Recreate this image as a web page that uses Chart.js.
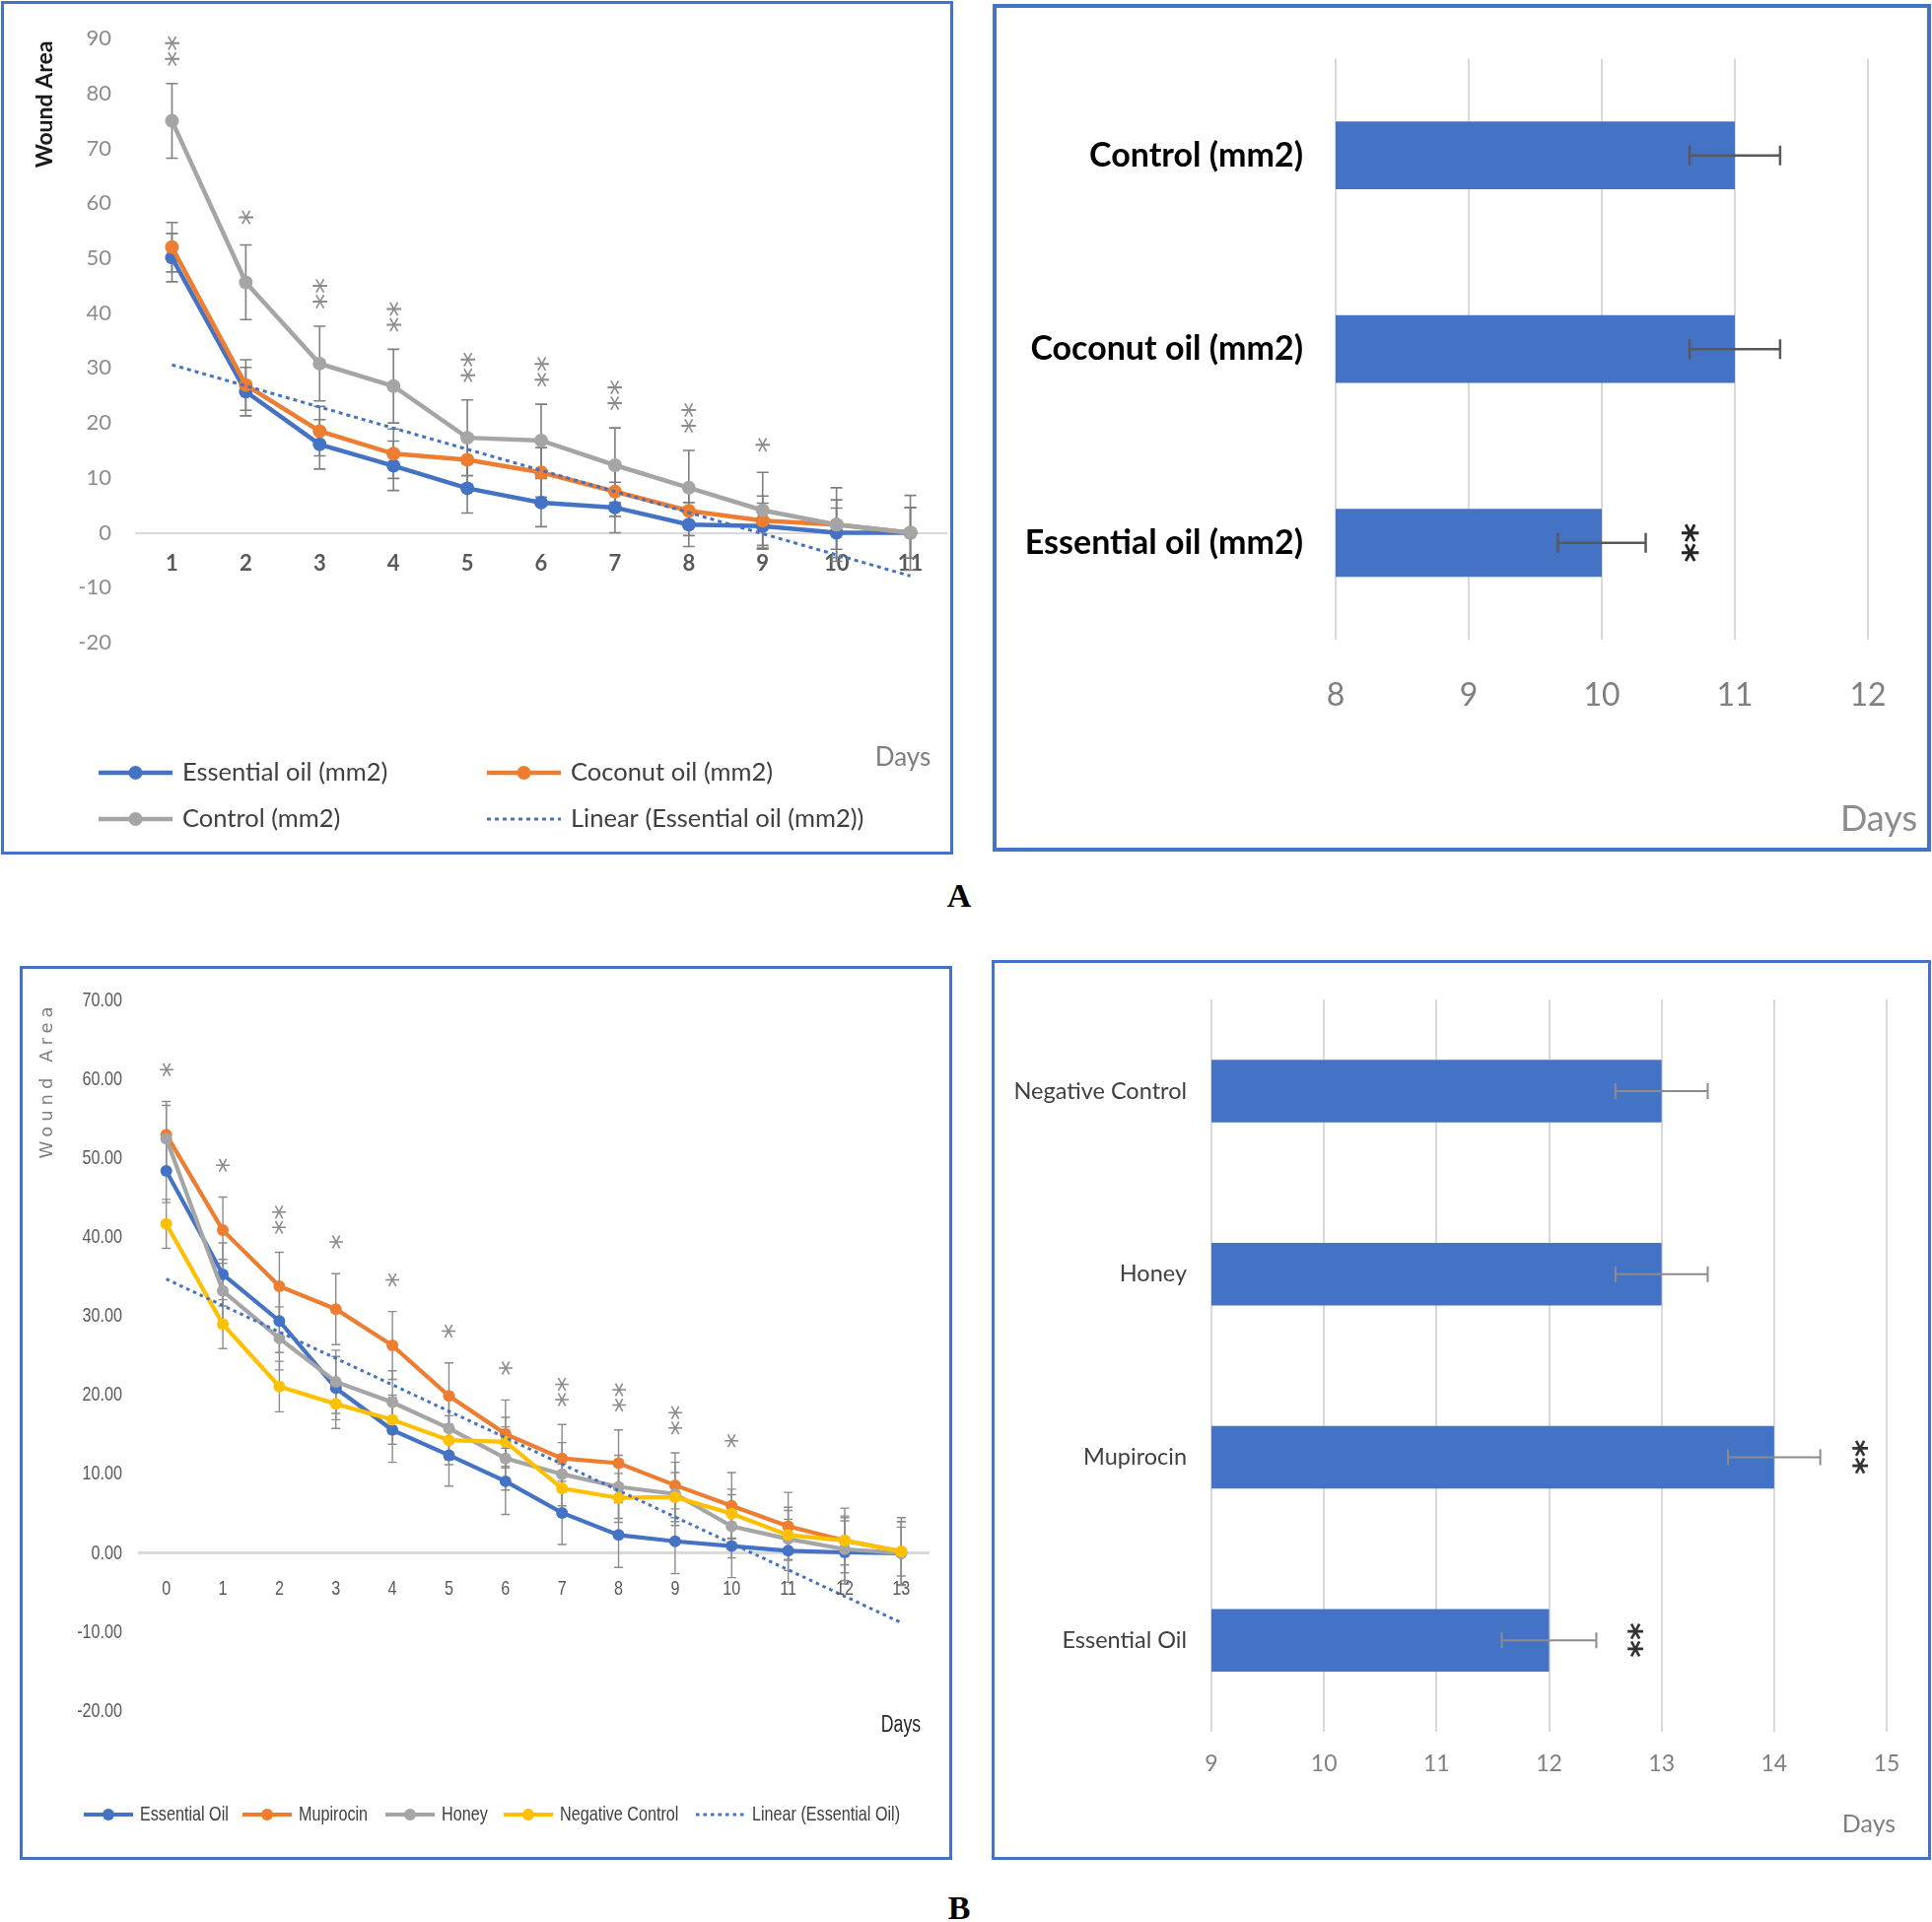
<!DOCTYPE html>
<html><head><meta charset="utf-8"><title>Wound healing</title>
<script src="https://cdn.jsdelivr.net/npm/chart.js@4.4.1/dist/chart.umd.min.js"></script>
<style>
html,body{margin:0;padding:0;background:#fff;}
body{position:relative;width:1960px;height:1950px;overflow:hidden;}
canvas{position:absolute;}
.frame{position:absolute;box-sizing:border-box;border-style:solid;border-color:#4472c4;pointer-events:none;}
.panel-label{position:absolute;transform:translate(-50%,-50%);font:bold 34px 'Liberation Serif','Times New Roman',serif;color:#000;}
</style></head><body>
<canvas id="cA1" width="968" height="868" style="left:0;top:0"></canvas>
<canvas id="cA2" width="949" height="856" style="left:1009px;top:6px"></canvas>
<canvas id="cB1" width="944" height="905" style="left:21px;top:981px"></canvas>
<canvas id="cB2" width="951" height="911" style="left:1007px;top:975px"></canvas>
<div class="frame" style="left:1px;top:1px;width:966px;height:866px;border-width:3px"></div>
<div class="frame" style="left:1007px;top:4px;width:952px;height:860px;border-width:4px"></div>
<div class="frame" style="left:20px;top:980px;width:946px;height:907px;border-width:3px"></div>
<div class="frame" style="left:1006px;top:974px;width:953px;height:913px;border-width:3px"></div>
<div class="panel-label" style="left:973px;top:909px">A</div>
<div class="panel-label" style="left:973px;top:1936px">B</div>
<script>
// ---------------- DATA ----------------
// Panel A (left): wound area (mm2) per day
const daysA = ['1','2','3','4','5','6','7','8','9','10','11'];
const essentialOilA = [50.1, 25.7, 16.1, 12.2, 8.1, 5.5, 4.6, 1.5, 1.2, 0, 0];
const coconutOilA   = [52.0, 26.9, 18.5, 14.4, 13.3, 11.0, 7.5, 4.0, 2.2, 1.5, 0];
const controlA      = [75.0, 45.6, 30.8, 26.7, 17.3, 16.8, 12.3, 8.2, 4.1, 1.5, 0];
const essentialOilErrA = [4.4, 4.4, 4.5, 4.5, 4.5, 4.4, 4.6, 4.0, 4.2, 4.5, 4.6];
const coconutOilErrA   = [4.5, 4.6, 4.5, 4.5, 4.5, 4.5, 4.5, 4.5, 4.5, 4.5, 4.6];
const controlErrA      = [6.8, 6.8, 6.8, 6.7, 6.9, 6.6, 6.8, 6.8, 6.9, 6.7, 6.8];
const signifA = ['**','*','**','**','**','**','**','**','*','',''];
const seriesNamesA = ['Essential oil (mm2)','Coconut oil (mm2)','Control (mm2)','Linear (Essential oil (mm2))'];

// Panel A (right): days to healing
const groupsA = ['Control (mm2)','Coconut oil (mm2)','Essential oil (mm2)'];
const healDaysA = [11, 11, 10];
const healErrA = [0.34, 0.34, 0.33];
const healSignifA = ['', '', '**'];

// Panel B (left): wound area per day
const daysB = ['0','1','2','3','4','5','6','7','8','9','10','11','12','13'];
const essentialOilB = [48.4, 35.3, 29.4, 20.9, 15.6, 12.4, 9.1, 5.1, 2.3, 1.5, 0.9, 0.3, 0.1, 0];
const mupirocinB    = [53.0, 40.9, 33.8, 30.9, 26.3, 19.9, 15.1, 12.0, 11.4, 8.6, 6.0, 3.4, 1.6, 0.2];
const honeyB        = [52.5, 33.2, 27.2, 21.7, 19.1, 15.8, 12.0, 10.0, 8.4, 7.5, 3.4, 1.8, 0.5, 0];
const negControlB   = [41.7, 29.0, 21.1, 18.9, 16.9, 14.3, 14.1, 8.2, 7.0, 7.1, 5.0, 2.3, 1.6, 0.2];
const essentialOilErrB = [4.0, 4.0, 4.0, 4.0, 4.1, 3.9, 4.2, 4.0, 4.1, 4.1, 4.0, 4.0, 4.0, 4.0];
const mupirocinErrB    = [4.2, 4.2, 4.3, 4.5, 4.3, 4.2, 4.3, 4.3, 4.2, 4.1, 4.2, 4.3, 4.1, 4.3];
const honeyErrB        = [4.2, 4.0, 4.0, 4.0, 4.0, 4.0, 4.0, 4.0, 4.0, 4.0, 4.0, 4.0, 4.0, 4.0];
const negControlErrB   = [3.1, 3.1, 3.2, 3.1, 3.1, 3.1, 3.1, 3.1, 3.1, 3.1, 3.1, 3.1, 3.1, 3.1];
const signifB = ['*','*','**','*','*','*','*','**','**','**','*','','',''];
const seriesNamesB = ['Essential Oil','Mupirocin','Honey','Negative Control','Linear (Essential Oil)'];

// Panel B (right): days to healing
const groupsB = ['Negative Control','Honey','Mupirocin','Essential Oil'];
const healDaysB = [13, 13, 14, 12];
const healErrB = [0.41, 0.41, 0.41, 0.42];
const healSignifB = ['', '', '**', '**'];

// ---------------- HELPERS ----------------
const COL = {blue:'#4472c4', orange:'#ed7d31', gray:'#a5a5a5', yellow:'#ffc000'};
const COND = "'Liberation Sans', Arial, sans-serif";   // drawn horizontally condensed
const SQ = 0.77;                                       // horizontal squeeze for panel B (left) text
Chart.defaults.font.family = 'Lato';

// least-squares linear trendline of a series (as Excel's "Linear" trendline)
function linearTrend(vals){
  const n = vals.length; let sx=0, sy=0, sxx=0, sxy=0;
  vals.forEach((y,x)=>{sx+=x; sy+=y; sxx+=x*x; sxy+=x*y;});
  const b = (n*sxy - sx*sy)/(n*sxx - sx*sx), a = (sy - b*sx)/n;
  return vals.map((_,x)=>a+b*x);
}
function lineSet(label, data, color, width, radius, order){
  return {label, data, borderColor:color, backgroundColor:color, borderWidth:width, pointRadius:radius,
    pointHoverRadius:radius, pointBackgroundColor:color, pointBorderColor:color, pointBorderWidth:0,
    tension:0, fill:false, order};
}
function trendSet(label, data, color, width, dash){
  return {label, data, borderColor:color, backgroundColor:color, borderWidth:width, borderDash:dash,
    borderCapStyle:'butt', pointRadius:0, pointHoverRadius:0, tension:0, fill:false, order:0};
}
function drawText(ctx, text, x, y, align, sx){
  ctx.save(); ctx.translate(x, y); if (sx && sx !== 1) ctx.scale(sx, 1);
  ctx.textAlign = align; ctx.fillText(text, 0, 0); ctx.restore();
}
function errorBars(specs, horizontal, after){
  const draw = (chart)=>{
    const ctx = chart.ctx;
    specs.forEach(s=>{
      const meta = chart.getDatasetMeta(s.ds);
      const vals = chart.data.datasets[s.ds].data;
      const sc = horizontal ? chart.scales.x : chart.scales.y;
      ctx.save(); ctx.strokeStyle = s.color; ctx.lineWidth = s.width;
      meta.data.forEach((el,i)=>{
        const e = s.err[i]; if (e == null) return;
        const lo = sc.getPixelForValue(vals[i]-e), hi = sc.getPixelForValue(vals[i]+e);
        ctx.beginPath();
        if (horizontal){
          const y = el.y;
          ctx.moveTo(lo,y); ctx.lineTo(hi,y);
          ctx.moveTo(lo,y-s.cap); ctx.lineTo(lo,y+s.cap);
          ctx.moveTo(hi,y-s.cap); ctx.lineTo(hi,y+s.cap);
        } else {
          const x = el.x;
          ctx.moveTo(x,lo); ctx.lineTo(x,hi);
          ctx.moveTo(x-s.cap,lo); ctx.lineTo(x+s.cap,lo);
          ctx.moveTo(x-s.cap,hi); ctx.lineTo(x+s.cap,hi);
        }
        ctx.stroke();
      });
      ctx.restore();
    });
  };
  return after ? {id:'errorBars', afterDatasetsDraw:draw} : {id:'errorBars', beforeDatasetsDraw:draw};
}
function starMarks(s){
  return {id:'starMarks', afterDatasetsDraw(chart){
    const ctx = chart.ctx;
    const meta = chart.getDatasetMeta(s.ds);
    const vals = chart.data.datasets[s.ds].data;
    const sc = s.horizontal ? chart.scales.x : chart.scales.y;
    ctx.save(); ctx.font = s.font; ctx.fillStyle = s.color; ctx.textAlign='left'; ctx.textBaseline='alphabetic';
    meta.data.forEach((el,i)=>{
      const m = s.marks[i]; if (!m) return;
      const mt = ctx.measureText(m);
      const cxOff = (mt.actualBoundingBoxRight - mt.actualBoundingBoxLeft)/2;
      const cyOff = (mt.actualBoundingBoxAscent - mt.actualBoundingBoxDescent)/2;
      const len = mt.actualBoundingBoxRight + mt.actualBoundingBoxLeft;
      const thick = mt.actualBoundingBoxAscent + mt.actualBoundingBoxDescent;
      const end = sc.getPixelForValue(vals[i] + s.err[i]);
      const extra = (m.length === 1 ? (s.singleExtra || 0) : 0);
      let x, y;
      if (s.horizontal){ x = end + s.gap + thick/2; y = el.y; }
      else { x = el.x; y = end - s.gap - extra - len/2; }
      ctx.save(); ctx.translate(x,y); ctx.rotate(Math.PI/2); ctx.fillText(m, -cxOff, cyOff); ctx.restore();
    });
    ctx.restore();
  }};
}
function customLegend(items, o){
  return {id:'customLegend', afterDraw(chart){
    const ctx = chart.ctx; ctx.save();
    items.forEach(it=>{
      const ds = chart.data.datasets[it.ds];
      ctx.strokeStyle = ds.borderColor; ctx.lineWidth = ds.borderWidth; ctx.lineCap='butt';
      ctx.setLineDash(ds.borderDash || []);
      ctx.beginPath(); ctx.moveTo(it.x, it.y); ctx.lineTo(it.x+o.len, it.y); ctx.stroke();
      ctx.setLineDash([]);
      if (ds.pointRadius > 0){
        ctx.fillStyle = ds.borderColor; ctx.beginPath(); ctx.arc(it.x+o.len/2, it.y, o.r, 0, Math.PI*2); ctx.fill();
      }
      ctx.fillStyle = o.color; ctx.font = o.font; ctx.textBaseline='middle';
      drawText(ctx, ds.label, it.x+o.len+o.gap, it.y, 'left', o.sx || 1);
    });
    ctx.restore();
  }};
}
function freeTexts(list){
  return {id:'freeTexts', afterDraw(chart){
    const ctx = chart.ctx;
    list.forEach(t=>{
      ctx.save(); ctx.translate(t.x, t.y); if (t.rot) ctx.rotate(t.rot);
      if (t.sx) ctx.scale(t.sx, 1);
      ctx.font = t.font; ctx.fillStyle = t.color; ctx.textAlign='center'; ctx.textBaseline='middle';
      if (t.ls) ctx.letterSpacing = t.ls;
      ctx.fillText(t.text, 0, 0); ctx.restore();
    });
  }};
}
// tick labels of a line chart drawn from the chart's own scales, horizontally condensed
function condensedTicks(o){
  return {id:'condensedTicks', afterDraw(chart){
    const ctx = chart.ctx, xs = chart.scales.x, ys = chart.scales.y;
    ctx.save(); ctx.font = o.font; ctx.fillStyle = o.color; ctx.textBaseline = 'middle';
    const yAxisLine = ys.getPixelForValue(0);
    xs.ticks.forEach((t,i)=> drawText(ctx, xs.getLabelForValue(t.value), xs.getPixelForTick(i), yAxisLine + o.xOff, 'center', o.sx));
    ys.ticks.forEach((t,i)=> drawText(ctx, o.yFmt(t.value), chart.chartArea.left - o.yPad, ys.getPixelForTick(i), 'right', o.sx));
    ctx.restore();
  }};
}
const zeroLine = (c)=> (c.tick && c.tick.value === 0) ? '#d9d9d9' : 'rgba(0,0,0,0)';
const baseOpts = {responsive:false, animation:false, events:[], plugins:{legend:{display:false}, tooltip:{enabled:false}}};

// ---------------- PANEL A LEFT ----------------
new Chart(document.getElementById('cA1'), {
  type:'line',
  data:{labels:daysA, datasets:[
    lineSet(seriesNamesA[0], essentialOilA, COL.blue, 4.5, 7, 3),
    lineSet(seriesNamesA[1], coconutOilA, COL.orange, 4.5, 7, 2),
    lineSet(seriesNamesA[2], controlA, COL.gray, 4.5, 7, 1),
    trendSet(seriesNamesA[3], linearTrend(essentialOilA), COL.blue, 3, [4,4])
  ]},
  options:{...baseOpts,
    layout:{padding:{left:0, top:39, right:4, bottom:216}},
    scales:{
      x:{type:'category', position:{y:0}, offset:true,
         grid:{display:false, drawTicks:false}, border:{display:false},
         ticks:{font:{family:'Lato', size:22, weight:'bold'}, color:'#595959', padding:18, maxRotation:0, autoSkip:false}},
      y:{min:-20, max:90,
         ticks:{stepSize:10, font:{family:'Lato', size:22}, color:'#8c8c8c', padding:24},
         grid:{color:zeroLine, lineWidth:2, drawTicks:false}, border:{display:false},
         afterFit(s){ s.width = 137; }}
    }},
  plugins:[
    errorBars([
      {ds:0, err:essentialOilErrA, color:'#7f7f7f', width:1.6, cap:6},
      {ds:1, err:coconutOilErrA, color:'#7f7f7f', width:1.6, cap:6},
      {ds:2, err:controlErrA, color:'#7f7f7f', width:1.6, cap:6}
    ], false, false),
    starMarks({ds:2, err:controlErrA, marks:signifA, font:"32px 'DejaVu Sans'", color:'#8c8c8c', gap:17, singleExtra:3}),
    customLegend([{ds:0,x:100,y:784},{ds:1,x:494,y:784},{ds:2,x:100,y:831},{ds:3,x:494,y:831}],
      {len:75, r:7, gap:10, font:"25.5px Lato", color:'#404040'}),
    freeTexts([
      {text:'Wound Area', x:46, y:106, rot:-Math.PI/2, font:"bold 23px Lato", color:'#1a1a1a'},
      {text:'Days', x:916, y:769, font:"26px Lato", color:'#7f7f7f'}
    ])
  ]
});

// ---------------- PANEL A RIGHT ----------------
new Chart(document.getElementById('cA2'), {
  type:'bar',
  data:{labels:groupsA, datasets:[{label:'Days', data:healDaysA, backgroundColor:COL.blue, borderWidth:0,
    barPercentage:0.35, categoryPercentage:1}]},
  options:{...baseOpts, indexAxis:'y',
    layout:{padding:{left:0, top:52, right:63, bottom:0}},
    scales:{
      x:{min:8, max:12, ticks:{stepSize:1, font:{family:'Lato', size:32}, color:'#7f7f7f', padding:37},
         grid:{color:'#d9d9d9', lineWidth:2, drawTicks:false}, border:{display:false},
         afterFit(s){ s.height = 856-643; }},
      y:{ticks:{font:{family:'Lato', size:34, weight:'bold'}, color:'#000', padding:33},
         grid:{display:false, drawTicks:false}, border:{display:false},
         afterFit(s){ s.width = 346; }}
    }},
  plugins:[
    errorBars([{ds:0, err:healErrA, color:'#595959', width:2.5, cap:10}], true, true),
    starMarks({ds:0, err:healErrA, marks:healSignifA, horizontal:true, font:"bold 38px 'DejaVu Sans'", color:'#262626', gap:36}),
    freeTexts([{text:'Days', x:897, y:825, font:"36px Lato", color:'#8c8c8c'}])
  ]
});

// ---------------- PANEL B LEFT ----------------
new Chart(document.getElementById('cB1'), {
  type:'line',
  data:{labels:daysB, datasets:[
    lineSet(seriesNamesB[0], essentialOilB, COL.blue, 4.2, 6, 4),
    lineSet(seriesNamesB[1], mupirocinB, COL.orange, 4.2, 6, 3),
    lineSet(seriesNamesB[2], honeyB, COL.gray, 4.2, 6, 2),
    lineSet(seriesNamesB[3], negControlB, COL.yellow, 4.2, 6, 1),
    trendSet(seriesNamesB[4], linearTrend(essentialOilB), COL.blue, 3, [3.5,4])
  ]},
  options:{...baseOpts,
    layout:{padding:{left:0, top:34, right:22, bottom:150}},
    scales:{
      x:{type:'category', position:{y:0}, offset:true,
         grid:{display:false, drawTicks:false}, border:{display:false},
         ticks:{display:false, autoSkip:false}},
      y:{min:-20, max:70,
         ticks:{display:false, stepSize:10},
         grid:{color:zeroLine, lineWidth:3, drawTicks:false}, border:{display:false},
         afterFit(s){ s.width = 119; }}
    }},
  plugins:[
    errorBars([
      {ds:0, err:essentialOilErrB, color:'#8c8c8c', width:1.4, cap:4.5},
      {ds:1, err:mupirocinErrB, color:'#8c8c8c', width:1.4, cap:4.5},
      {ds:2, err:honeyErrB, color:'#8c8c8c', width:1.4, cap:4.5},
      {ds:3, err:negControlErrB, color:'#8c8c8c', width:1.4, cap:4.5}
    ], false, false),
    starMarks({ds:1, err:mupirocinErrB, marks:signifB, font:"31px 'DejaVu Sans'", color:'#8c8c8c', gap:18, singleExtra:7}),
    condensedTicks({font:"21px "+COND, color:'#595959', sx:SQ, xOff:36, yPad:16, yFmt:(v)=>v.toFixed(2)}),
    customLegend([{ds:0,x:64,y:860},{ds:1,x:225,y:860},{ds:2,x:370,y:860},{ds:3,x:490,y:860},{ds:4,x:685,y:860}],
      {len:50, r:6, gap:7, font:"21px "+COND, color:'#404040', sx:SQ}),
    freeTexts([
      {text:'Wound Area', x:27, y:115, rot:-Math.PI/2, font:"18px 'DejaVu Sans'", color:'#7f7f7f', ls:'5px'},
      {text:'Days', x:893, y:770, font:"23px "+COND, color:'#262626', sx:SQ}
    ])
  ]
});

// ---------------- PANEL B RIGHT ----------------
new Chart(document.getElementById('cB2'), {
  type:'bar',
  data:{labels:groupsB, datasets:[{label:'Days', data:healDaysB, backgroundColor:COL.blue, borderWidth:0,
    barPercentage:0.342, categoryPercentage:1}]},
  options:{...baseOpts, indexAxis:'y',
    layout:{padding:{left:0, top:33, right:44, bottom:0}},
    scales:{
      x:{min:9, max:15, ticks:{stepSize:1, font:{family:'Lato', size:23}, color:'#7f7f7f', padding:19},
         grid:{color:'#d9d9d9', lineWidth:2, drawTicks:false}, border:{display:false},
         afterFit(s){ s.height = 911-782; }},
      y:{ticks:{font:{family:'Lato', size:23.5}, color:'#404040', padding:25},
         grid:{display:false, drawTicks:false}, border:{display:false},
         afterFit(s){ s.width = 222; }}
    }},
  plugins:[
    errorBars([{ds:0, err:healErrB, color:'#8c8c8c', width:2, cap:8}], true, true),
    starMarks({ds:0, err:healErrB, marks:healSignifB, horizontal:true, font:"bold 34px 'DejaVu Sans'", color:'#333333', gap:32}),
    freeTexts([{text:'Days', x:889, y:876, font:"25px Lato", color:'#7f7f7f'}])
  ]
});
</script>
</body></html>
